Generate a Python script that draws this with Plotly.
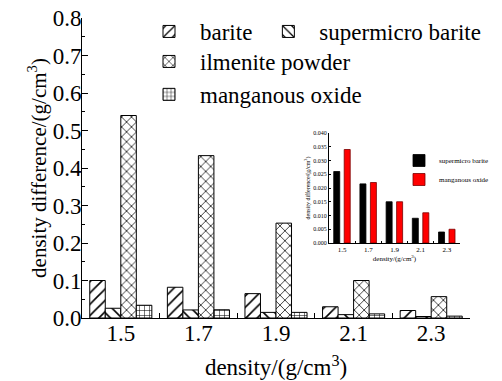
import plotly.graph_objects as go

categories = ["1.5", "1.7", "1.9", "2.1", "2.3"]
barite = [0.100, 0.082, 0.065, 0.030, 0.020]
supermicro_barite = [0.026, 0.0215, 0.015, 0.009, 0.004]
ilmenite_powder = [0.540, 0.433, 0.253, 0.100, 0.057]
manganous_oxide = [0.034, 0.022, 0.015, 0.011, 0.005]

FONT = "'Liberation Serif', serif"
fig = go.Figure()

main_series = [
    ("barite", barite, "/", 8, "legend"),
    ("supermicro barite", supermicro_barite, "\\", 8, "legend"),
    ("ilmenite powder", ilmenite_powder, "x", 7, "legend2"),
    ("manganous oxide", manganous_oxide, "+", 5, "legend2"),
]
for name, vals, shape, size, lg in main_series:
    fig.add_trace(go.Bar(
        x=categories, y=vals, name=name, legend=lg,
        marker=dict(color="white", line=dict(color="black", width=1),
                    pattern=dict(shape=shape, size=size, solidity=0.2,
                                 fgcolor="black", bgcolor="white", fgopacity=1)),
        xaxis="x", yaxis="y",
    ))

# inset
fig.add_trace(go.Bar(
    x=categories, y=supermicro_barite, name="supermicro barite", legend="legend3",
    marker=dict(color="black", line=dict(color="black", width=0.8)),
    width=0.23, offset=-0.32, xaxis="x2", yaxis="y2",
))
fig.add_trace(go.Bar(
    x=categories, y=manganous_oxide, name="manganous oxide", legend="legend3",
    marker=dict(color="#ff0000", line=dict(color="#7a0000", width=0.8)),
    width=0.23, offset=0.08, xaxis="x2", yaxis="y2",
))

L, R, T, B = 82, 32, 18, 63
W, H = 502, 381
pw, ph = W - L - R, H - T - B

def px2x(p):
    return (p - L) / pw

def px2y(p):
    return (H - B - p) / ph

fig.update_layout(
    width=W, height=H,
    margin=dict(l=L, r=R, t=T, b=B, autoexpand=False),
    paper_bgcolor="white", plot_bgcolor="white",
    font=dict(family=FONT, size=22, color="black"),
    barmode="group", bargap=0.2, bargroupgap=0.0,
    xaxis=dict(
        domain=[0, 1], range=[-0.5, 4.5], type="category", automargin=False,
        showline=True, linecolor="black", linewidth=1,
        ticks="inside", tickson="boundaries", ticklen=5, tickcolor="black",
        showgrid=False, zeroline=False, ticklabelstandoff=-6,
        tickfont=dict(family=FONT, size=23),
        title=dict(text="density/(g/cm<sup>3</sup>)", font=dict(family=FONT, size=23), standoff=14),
    ),
    yaxis=dict(
        domain=[0, 1], range=[0, 0.8], dtick=0.1, tickformat=".1f", automargin=False,
        showline=True, linecolor="black", linewidth=1,
        ticks="inside", ticklen=6, tickcolor="black", ticklabelstandoff=-5,
        minor=dict(ticks="inside", ticklen=3, dtick=0.05, tickcolor="black"),
        showgrid=False, zeroline=False,
        tickfont=dict(family=FONT, size=23),
        title=dict(text="density difference/(g/cm<sup>3</sup>)", font=dict(family=FONT, size=21), standoff=0),
    ),
    xaxis2=dict(
        domain=[px2x(329), px2x(460)], anchor="y2", range=[-0.5, 4.5], type="category",
        automargin=False,
        showline=True, linecolor="black", linewidth=1,
        ticks="inside", tickson="boundaries", ticklen=2, tickcolor="black",
        showgrid=False, zeroline=False,
        tickfont=dict(family=FONT, size=7),
        title=dict(text="density/(g/cm<sup>3</sup>)", font=dict(family=FONT, size=7), standoff=0),
    ),
    yaxis2=dict(
        domain=[px2y(243), px2y(133)], anchor="x2", range=[0, 0.040], dtick=0.005,
        tickformat=".3f", automargin=False,
        showline=True, linecolor="black", linewidth=1,
        ticks="inside", ticklen=2, tickcolor="black",
        showgrid=False, zeroline=False,
        tickfont=dict(family=FONT, size=6),
        title=dict(text="density difference/(g/cm<sup>3</sup>)", font=dict(family=FONT, size=6), standoff=2),
    ),
    legend=dict(
        orientation="h", x=px2x(138), y=px2y(10), xanchor="left", yanchor="top",
        font=dict(family=FONT, size=23), bgcolor="rgba(0,0,0,0)", itemwidth=52,
        tracegroupgap=0,
    ),
    legend2=dict(
        orientation="v", x=px2x(138), y=px2y(40), xanchor="left", yanchor="top",
        font=dict(family=FONT, size=23), bgcolor="rgba(0,0,0,0)", itemwidth=52,
        tracegroupgap=0,
    ),
    legend3=dict(
        orientation="v", x=px2x(399), y=px2y(146), xanchor="left", yanchor="top",
        font=dict(family=FONT, size=7), bgcolor="rgba(0,0,0,0)", itemwidth=30,
        tracegroupgap=0,
    ),
)

fig.write_html("out.html")
